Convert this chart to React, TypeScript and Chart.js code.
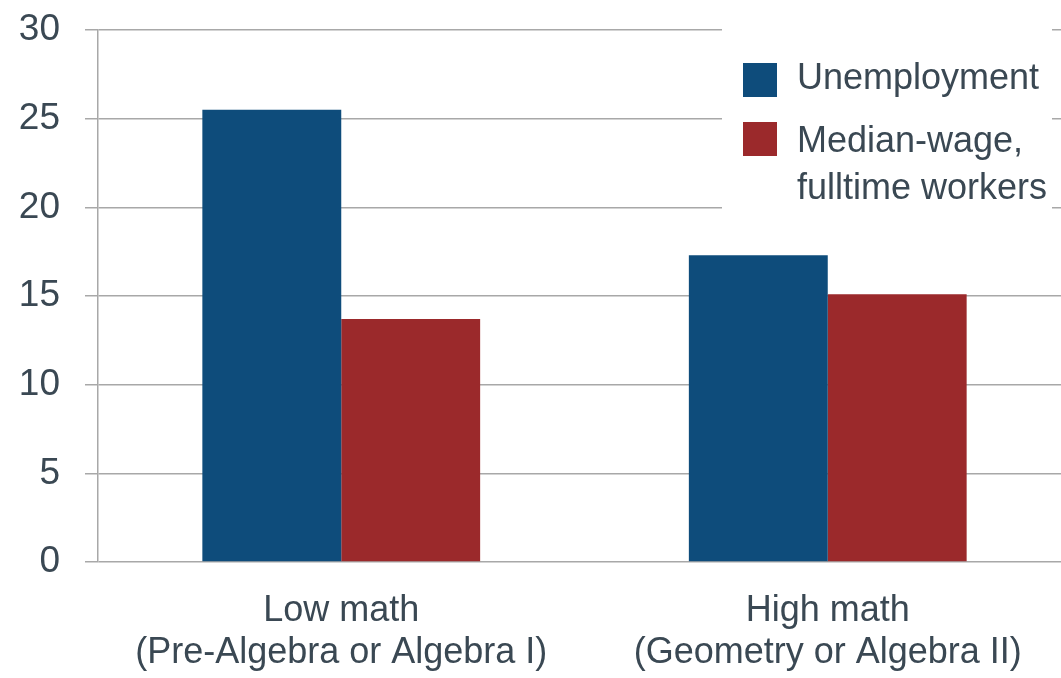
import React, { useEffect, useRef } from "react";
import { Chart, registerables } from "chart.js";

Chart.register(...registerables);

const categories: string[][] = [
  ["Low math", "(Pre-Algebra or Algebra I)"],
  ["High math", "(Geometry or Algebra II)"],
];
const seriesNames: string[][] = [["Unemployment"], ["Median-wage,", "fulltime workers"]];
const unemployment: number[] = [25.5, 17.3];
const medianWage: number[] = [13.7, 15.1];
const yTicks: number[] = [0, 5, 10, 15, 20, 25, 30];

const BLUE = "#0e4c7b";
const RED = "#9b292b";
const TEXT = "#3a4853";
const GRID = "#a8a8a8";
const FONT = "'Liberation Sans', Arial, sans-serif";

const legendPlugin = {
  id: "customLegend",
  afterDraw(chart: any) {
    const ctx = chart.ctx;
    ctx.save();
    ctx.fillStyle = "#ffffff";
    ctx.fillRect(722, 15, 330, 212);
    const colors = [BLUE, RED];
    const squareTops = [63, 122];
    const baselines = [[89], [152, 199]];
    ctx.font = `36px ${FONT}`;
    ctx.textBaseline = "alphabetic";
    ctx.textAlign = "left";
    seriesNames.forEach((lines, i) => {
      ctx.fillStyle = colors[i];
      ctx.fillRect(743, squareTops[i], 34, 34);
      ctx.fillStyle = TEXT;
      lines.forEach((ln, j) => {
        ctx.fillText(ln, 797, baselines[i][j]);
      });
    });
    ctx.restore();
  },
};

export default function App() {
  const ref = useRef<HTMLCanvasElement>(null);
  useEffect(() => {
    if (!ref.current) return;
    const chart = new Chart(ref.current, {
      type: "bar",
      data: {
        labels: categories as any,
        datasets: [
          {
            label: seriesNames[0].join(" "),
            data: unemployment,
            backgroundColor: BLUE,
            categoryPercentage: 0.571,
            barPercentage: 1,
          },
          {
            label: seriesNames[1].join(" "),
            data: medianWage,
            backgroundColor: RED,
            categoryPercentage: 0.571,
            barPercentage: 1,
          },
        ],
      },
      options: {
        responsive: false,
        animation: false,
        devicePixelRatio: 1,
        layout: { padding: { top: 30, left: 0, right: 0, bottom: 0 } },
        plugins: { legend: { display: false }, tooltip: { enabled: false } },
        scales: {
          x: {
            grid: { display: false, drawTicks: false },
            border: { display: false },
            ticks: {
              color: TEXT,
              font: { family: FONT, size: 36, lineHeight: 1.17 },
              padding: 28,
              maxRotation: 0,
              autoSkip: false,
            },
            afterFit: (s: any) => {
              s.height = 116;
              s.paddingLeft = 0;
              s.paddingRight = 0;
            },
          },
          y: {
            min: 0,
            max: 30,
            afterBuildTicks: (s: any) => {
              s.ticks = yTicks.map((v) => ({ value: v }));
            },
            grid: { color: GRID, lineWidth: 1.5, tickLength: 13 },
            border: { display: true, color: GRID, width: 1.5 },
            ticks: {
              color: TEXT,
              font: { family: FONT, size: 37 },
              padding: 25,
            },
            afterFit: (s: any) => {
              s.width = 98;
              s.paddingTop = 0;
              s.paddingBottom = 0;
            },
          },
        },
      },
      plugins: [legendPlugin],
    });
    return () => chart.destroy();
  }, []);
  return (
    <div
      style={{
        position: "fixed",
        left: 0,
        top: 0,
        width: 1061,
        height: 678,
        overflow: "hidden",
        background: "#fff",
      }}
    >
      <canvas ref={ref} width={1071} height={678} style={{ display: "block" }} />
    </div>
  );
}
